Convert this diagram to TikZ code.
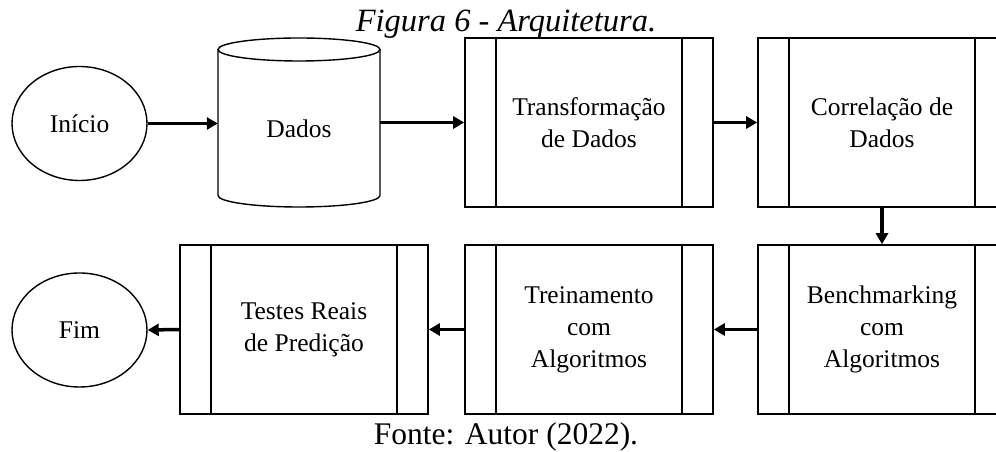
\documentclass[tikz,border=0pt]{standalone}
\usepackage{fontspec}
\setmainfont{Liberation Serif}
\usetikzlibrary{arrows.meta,shapes.geometric}

\tikzset{
  boxtext/.style={font=\fontsize{25.5}{32}\selectfont, align=center},
  procbox/.style={draw, line width=1.6pt, rectangle, minimum width=248pt,
    minimum height=169pt, inner sep=0pt, boxtext,
    path picture={
      \draw[line width=1.6pt]
        ([xshift=31pt]path picture bounding box.north west) --
        ([xshift=31pt]path picture bounding box.south west)
        ([xshift=-31pt]path picture bounding box.north east) --
        ([xshift=-31pt]path picture bounding box.south east);
    }},
  terminal/.style={draw, line width=1.4pt, ellipse, minimum width=135pt,
    minimum height=114pt, inner sep=0pt, boxtext},
  flow/.style={line width=3.5pt, -{Triangle[length=11pt,width=12pt]}},
}

\begin{document}
\begin{tikzpicture}[x=1pt,y=1pt]
  \useasboundingbox (0,0) rectangle (996,452);
  \clip (0,0) rectangle (996,452);

  % title and source
  \node[anchor=base, inner sep=0pt, font=\fontsize{32.5}{36}\selectfont\itshape]
    (title) at (506,420) {Figura 6 - Arquitetura.};
  \node[anchor=base, inner sep=0pt, font=\fontsize{31.5}{36}\selectfont]
    (fonte) at (506,7) {Fonte: Autor (2022).};

  % start and end
  \node[terminal] (inicio) at (79.5,328.5) {Início};
  \node[terminal] (fim) at (79.5,122) {Fim};

  % data store drawn as a cylinder
  \draw[line width=1.4pt]
    (218,402.5) -- (218,256.5) arc[start angle=180, end angle=360,
      x radius=81pt, y radius=11.5pt] -- (380,402.5);
  \draw[line width=1.4pt] (299,402.5) ellipse[x radius=81pt, y radius=11.5pt];
  \node[minimum width=162pt, minimum height=169pt, inner sep=0pt] (dados)
    at (299,329.5) {};
  \node[anchor=base, boxtext] (dadoslabel) at (299,314) {Dados};

  % process steps
  \node[procbox] (transf) at (589,329.5) {Transformação\\de Dados};
  \node[procbox] (correl) at (882,329.5) {Correlação de\\Dados};
  \node[procbox] (bench) at (882,122.5) {Benchmarking\\com\\Algoritmos};
  \node[procbox] (trein) at (589,122.5) {Treinamento\\com\\Algoritmos};
  \node[procbox] (testes) at (304,122.5) {Testes Reais\\de Predição};

  % connectors
  \draw[flow] (inicio.east) -- (dados.west |- inicio.east);
  \draw[flow] (dados.east |- transf.west) -- (transf.west);
  \draw[flow] (transf.east) -- (correl.west);
  \draw[flow] (correl.south) -- (bench.north);
  \draw[flow] (bench.west) -- (trein.east);
  \draw[flow] (trein.west) -- (testes.east);
  \draw[flow] (testes.west) -- (fim.east);
\end{tikzpicture}
\end{document}
